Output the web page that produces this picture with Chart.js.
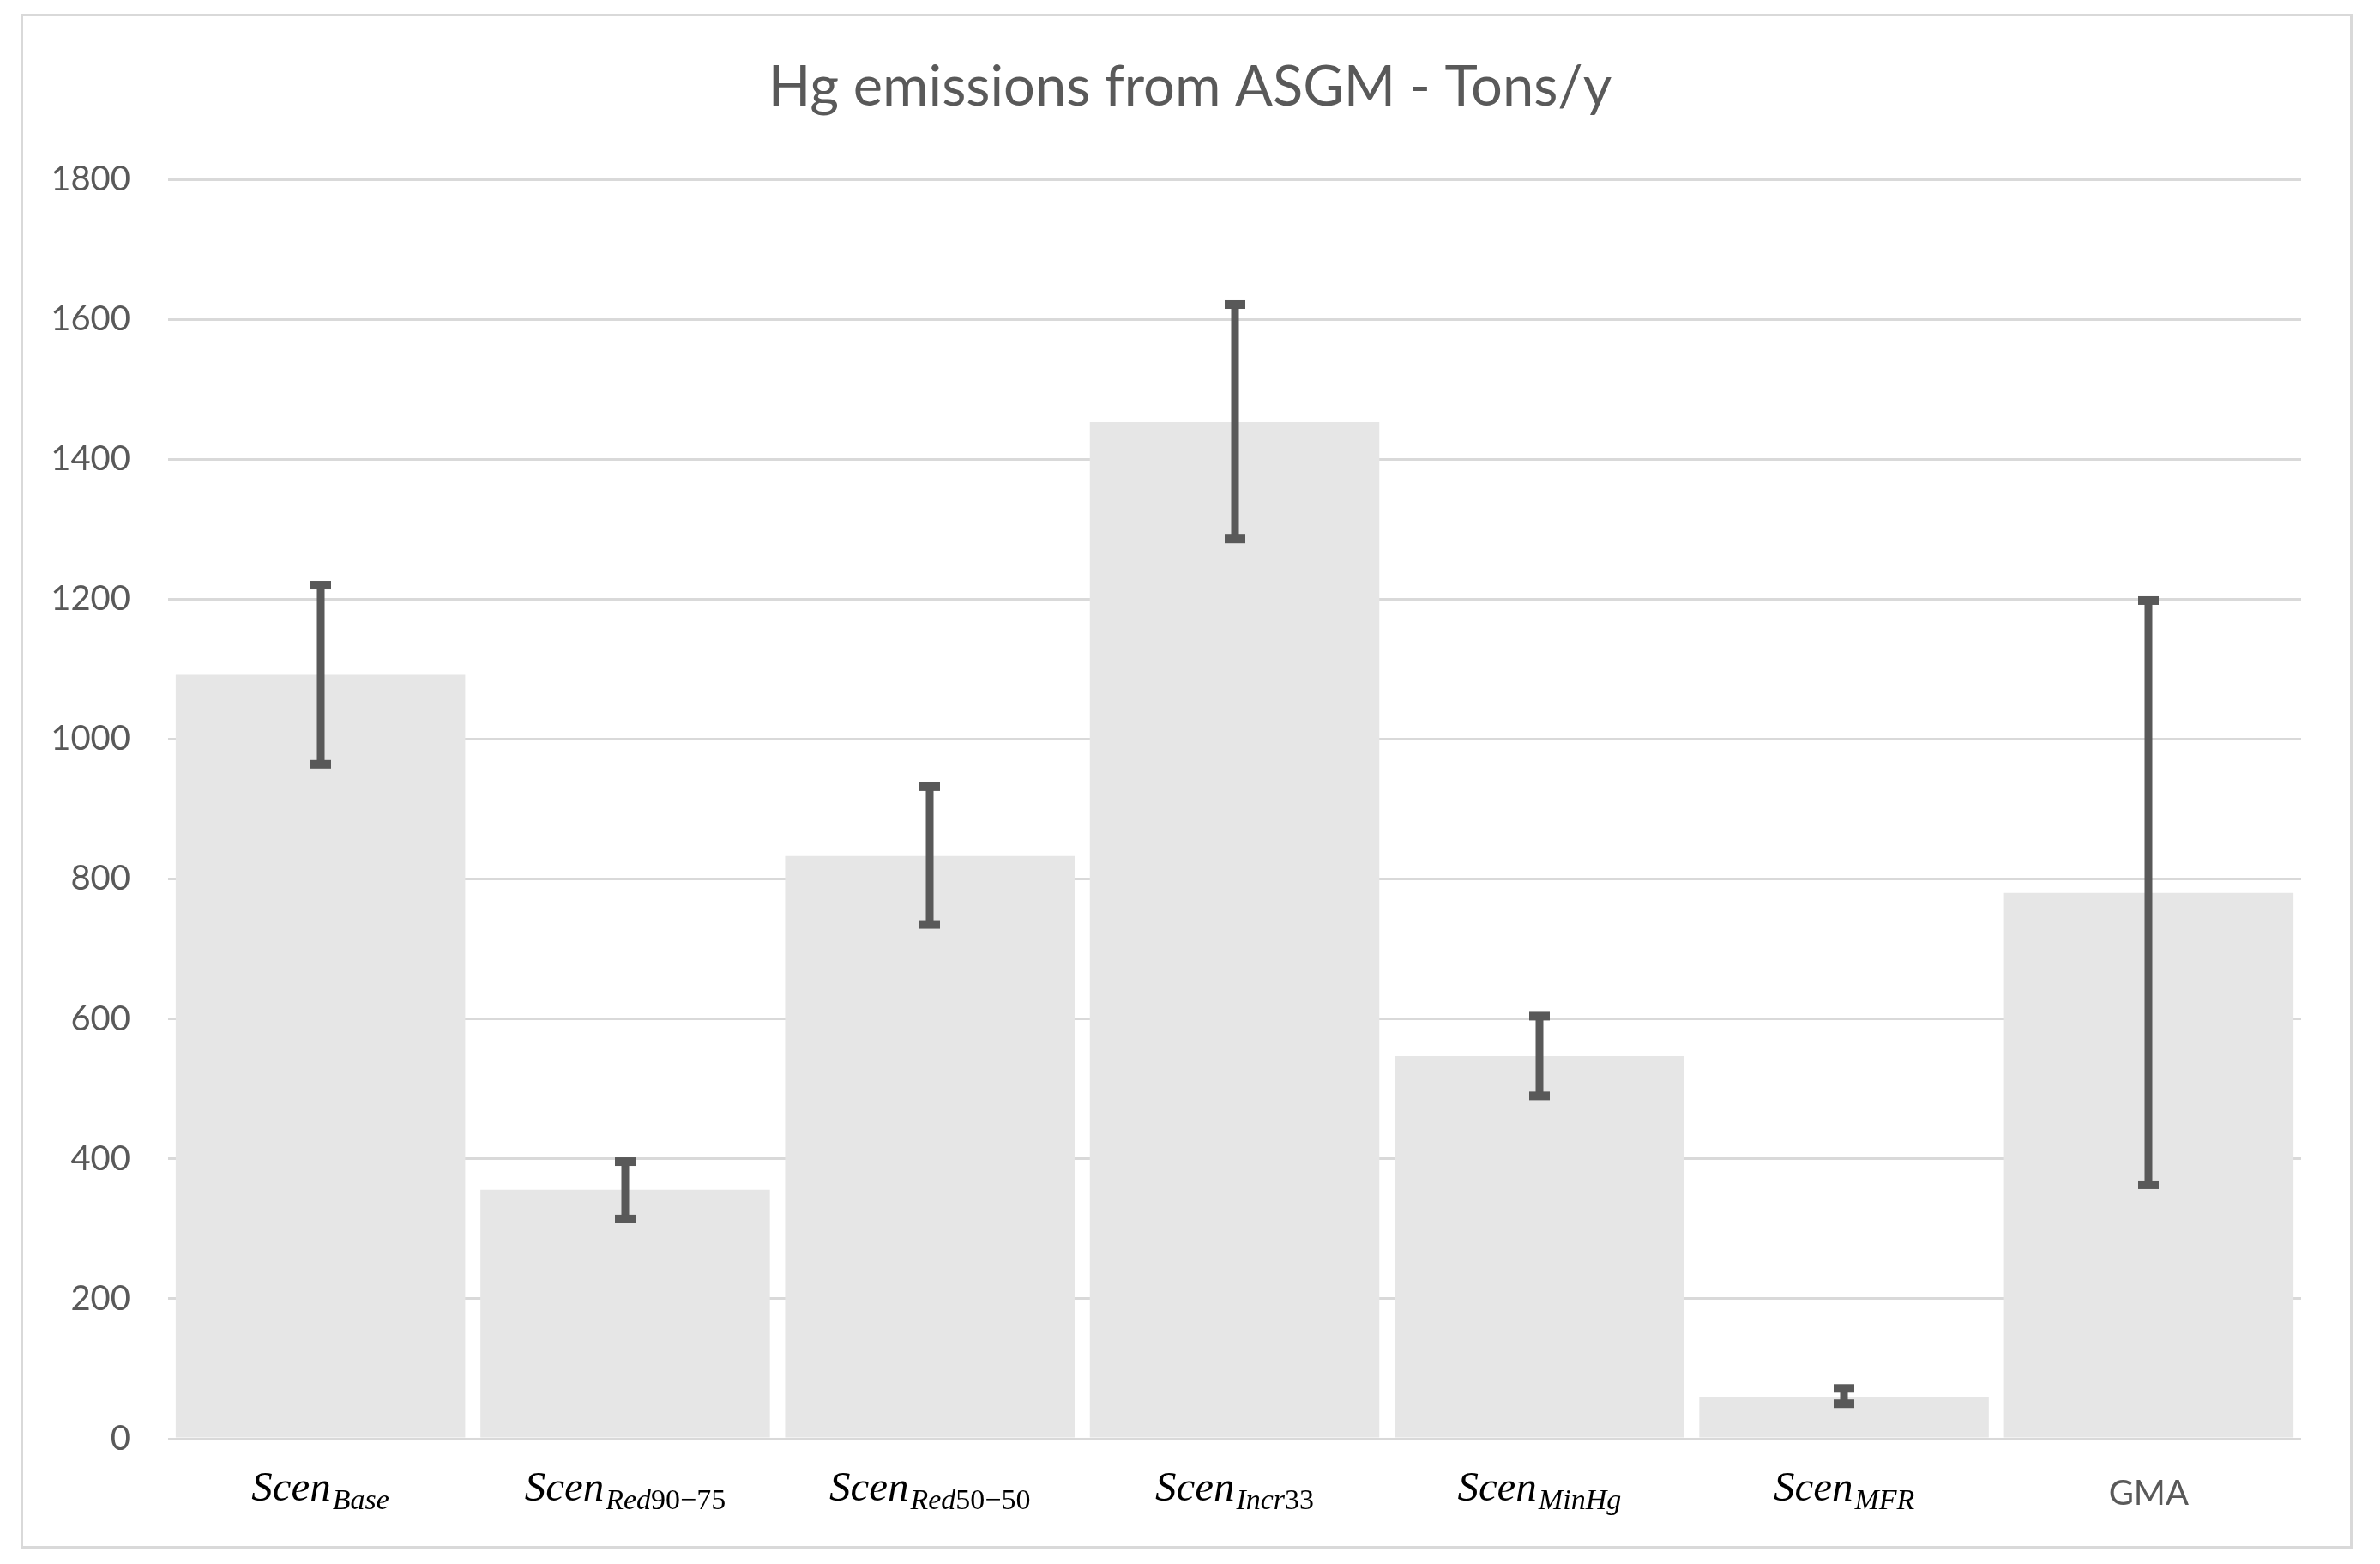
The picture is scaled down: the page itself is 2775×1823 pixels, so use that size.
<!DOCTYPE html>
<html>
<head>
<meta charset="utf-8">
<script src="https://cdn.jsdelivr.net/npm/chart.js@4.4.1/dist/chart.umd.min.js"></script>
<style>
  html, body { margin: 0; padding: 0; background: #fff; }
  #frame {
    position: absolute; left: 24px; top: 16px;
    width: 2713px; height: 1783px;
    border: 3px solid #d9d9d9;
  }
  #chart { position: absolute; left: 0; top: 0; }
</style>
</head>
<body>
<div id="frame"></div>
<canvas id="chart" width="2775" height="1823"></canvas>
<script>
// category labels: main part + subscript
const labelMain = ['Scen', 'Scen', 'Scen', 'Scen', 'Scen', 'Scen', 'GMA'];
const labelSub = ['Base', 'Red90\u221275', 'Red50\u221250', 'Incr33', 'MinHg', 'MFR', ''];

// Hg emissions, tons/y
const values = [1092, 356, 833, 1453, 547, 60, 780];
const errHigh = [1220, 396, 932, 1621, 604, 72, 1198];
const errLow = [964, 314, 735, 1286, 490, 50, 363];

const yTicks = [0, 200, 400, 600, 800, 1000, 1200, 1400, 1600, 1800];

const grey = '#595959';
const serifMain = 'italic 49px "Liberation Serif"';
const serifSub = 'italic 34px "Liberation Serif"';
const serifSubUp = '34px "Liberation Serif"';

// error bars drawn on top of the bars
const errorBars = {
  id: 'errorBars',
  afterDatasetsDraw(chart) {
    const ctx = chart.ctx;
    const y = chart.scales.y;
    const meta = chart.getDatasetMeta(0);
    ctx.save();
    ctx.fillStyle = grey;
    meta.data.forEach((bar, i) => {
      const x = Math.round(bar.x);
      const top = y.getPixelForValue(errHigh[i]);
      const bot = y.getPixelForValue(errLow[i]);
      ctx.fillRect(x - 4.5, top, 9, bot - top);
      ctx.fillRect(x - 12, top - 5, 24, 10);
      ctx.fillRect(x - 12, bot - 5, 24, 10);
    });
    ctx.restore();
  }
};

// split a subscript into letter runs (italic) and digit runs (upright)
function subRuns(s) {
  const runs = [];
  for (const ch of s) {
    const up = /[0-9\u2212]/.test(ch);
    if (runs.length && runs[runs.length - 1].up === up) runs[runs.length - 1].t += ch;
    else runs.push({ t: ch, up: up });
  }
  return runs;
}

// x labels with subscripts
const xLabels = {
  id: 'xLabels',
  afterDraw(chart) {
    const ctx = chart.ctx;
    const meta = chart.getDatasetMeta(0);
    const base = chart.chartArea.bottom;
    ctx.save();
    ctx.textBaseline = 'alphabetic';
    ctx.textAlign = 'left';
    meta.data.forEach((bar, i) => {
      const x = bar.x;
      if (labelSub[i] === '') {
        ctx.font = '40px Lato';
        ctx.fillStyle = grey;
        ctx.textAlign = 'center';
        ctx.fillText(labelMain[i], x, base + 77);
        ctx.textAlign = 'left';
        return;
      }
      ctx.fillStyle = '#000';
      ctx.font = serifMain;
      const wMain = ctx.measureText(labelMain[i]).width;
      const runs = subRuns(labelSub[i]);
      let wSub = 0;
      runs.forEach(r => {
        ctx.font = r.up ? serifSubUp : serifSub;
        r.w = ctx.measureText(r.t).width;
        wSub += r.w;
      });
      let cx = x - (wMain + wSub + 2) / 2;
      ctx.font = serifMain;
      ctx.fillText(labelMain[i], cx, base + 72);
      cx += wMain + 2;
      runs.forEach(r => {
        ctx.font = r.up ? serifSubUp : serifSub;
        ctx.fillText(r.t, cx, base + 82);
        cx += r.w;
      });
    });
    ctx.restore();
  }
};

new Chart(document.getElementById('chart'), {
  type: 'bar',
  data: {
    labels: labelMain.map((m, i) => m + labelSub[i]),
    datasets: [{
      data: values,
      backgroundColor: '#e6e6e6',
      borderWidth: 0,
      barPercentage: 0.95,
      categoryPercentage: 1.0
    }]
  },
  options: {
    responsive: false,
    animation: false,
    devicePixelRatio: 1,
    layout: { padding: { left: 0, right: 0, top: 0, bottom: 146 } },
    plugins: {
      legend: { display: false },
      tooltip: { enabled: false },
      title: {
        display: true,
        text: 'Hg emissions from ASGM - Tons/y',
        color: grey,
        font: { family: 'Lato', size: 65, weight: 'normal' },
        padding: { top: 63, bottom: 68 }
      }
    },
    scales: {
      x: {
        display: false
      },
      y: {
        min: 0,
        max: 1800,
        afterBuildTicks: (scale) => { scale.ticks = yTicks.map(v => ({ value: v })); },
        afterFit: (scale) => { scale.width = 196; },
        grid: { color: '#d9d9d9', lineWidth: 3, drawTicks: false },
        border: { display: false },
        ticks: {
          color: grey,
          padding: 44,
          font: { family: 'Lato', size: 40 },
          callback: (v) => String(v)
        }
      },
      // empty right axis, only reserves the right margin
      yRight: {
        position: 'right',
        min: 0,
        max: 1800,
        grid: { display: false },
        border: { display: false },
        ticks: { display: false },
        afterFit: (scale) => { scale.width = 92; }
      }
    }
  },
  plugins: [errorBars, xLabels]
});
</script>
</body>
</html>
